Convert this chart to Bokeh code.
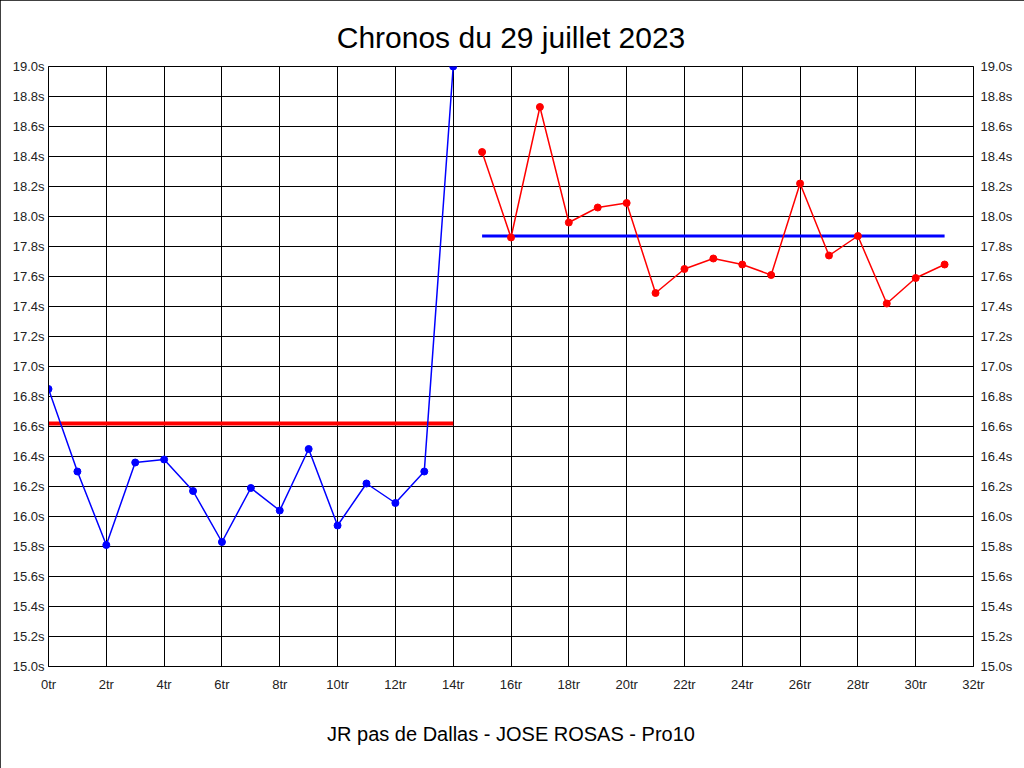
from bokeh.plotting import figure
from bokeh.models import LinearAxis, PrintfTickFormatter, SingleIntervalTicker, Range1d
from bokeh.embed import file_html
from bokeh.resources import INLINE

# Lap numbers and times
laps_a = [0, 1, 2, 3, 4, 5, 6, 7, 8, 9, 10, 11, 12, 13, 14]
times_a = [16.85, 16.30, 15.81, 16.36, 16.38, 16.17, 15.83, 16.19, 16.04, 16.45, 15.94, 16.22, 16.09, 16.30, 19.00]
mean_a_x = [0, 14]
mean_a = 16.62

laps_b = [15, 16, 17, 18, 19, 20, 21, 22, 23, 24, 25, 26, 27, 28, 29, 30, 31]
times_b = [18.43, 17.86, 18.73, 17.96, 18.06, 18.09, 17.49, 17.65, 17.72, 17.68, 17.61, 18.22, 17.74, 17.87, 17.42, 17.59, 17.68]
mean_b_x = [15, 31]
mean_b = 17.87

title_text = "Chronos du 29 juillet 2023"
subtitle_text = "JR pas de Dallas - JOSE ROSAS - Pro10"

FONT = "Liberation Sans"

p = figure(width=1024, height=768, output_backend="svg", toolbar_location=None,
           x_range=Range1d(0, 32), y_range=Range1d(15.0, 19.0),
           min_border_left=48, min_border_right=51, min_border_top=66, min_border_bottom=102,
           title=title_text)
p.styles = {"outline": "1px solid black", "outline-offset": "-1px"}
p.title.align = "center"
p.title.text_font = FONT
p.title.text_font_size = "30px"
p.title.text_font_style = "normal"
p.title.text_color = "black"
p.title.standoff = 26

p.outline_line_color = "black"
p.background_fill_color = "white"
p.border_fill_color = "white"

xt = SingleIntervalTicker(interval=2, num_minor_ticks=0)
yt = SingleIntervalTicker(interval=0.2, num_minor_ticks=0)
p.xaxis.ticker = xt
p.yaxis.ticker = yt
p.xaxis.formatter = PrintfTickFormatter(format="%dtr")
p.yaxis.formatter = PrintfTickFormatter(format="%.1fs")

raxis = LinearAxis(ticker=SingleIntervalTicker(interval=0.2, num_minor_ticks=0),
                   formatter=PrintfTickFormatter(format="%.1fs"))
p.add_layout(raxis, "right")

for ax in [p.xaxis[0], p.yaxis[0], raxis]:
    ax.major_tick_line_color = None
    ax.minor_tick_line_color = None
    ax.axis_line_color = "black"
    ax.major_label_text_font = FONT
    ax.major_label_text_font_size = "13px"
    ax.major_label_text_color = "#222222"

p.yaxis[0].major_label_standoff = -2
raxis.major_label_standoff = 1
p.xaxis.major_label_standoff = 4
p.xaxis.axis_label = subtitle_text
p.xaxis.axis_label_text_font = FONT
p.xaxis.axis_label_text_font_size = "20px"
p.xaxis.axis_label_text_font_style = "normal"
p.xaxis.axis_label_text_color = "black"
p.xaxis.axis_label_standoff = 28

p.xgrid.ticker = xt
p.ygrid.ticker = yt
p.grid.grid_line_color = "black"
p.grid.grid_line_alpha = 1.0
p.grid.grid_line_width = 1

# Mean lines
p.line(mean_a_x, [mean_a, mean_a], line_color="#ff0000", line_width=4)
p.line(mean_b_x, [mean_b, mean_b], line_color="#0000ff", line_width=3)

# Series
p.line(laps_a, times_a, line_color="#0000ff", line_width=1.5)
p.scatter(laps_a, times_a, size=7, color="#0000ff")
p.line(laps_b, times_b, line_color="#ff0000", line_width=1.5)
p.scatter(laps_b, times_b, size=7, color="#ff0000")

open("out.html", "w").write(file_html(p, INLINE))
